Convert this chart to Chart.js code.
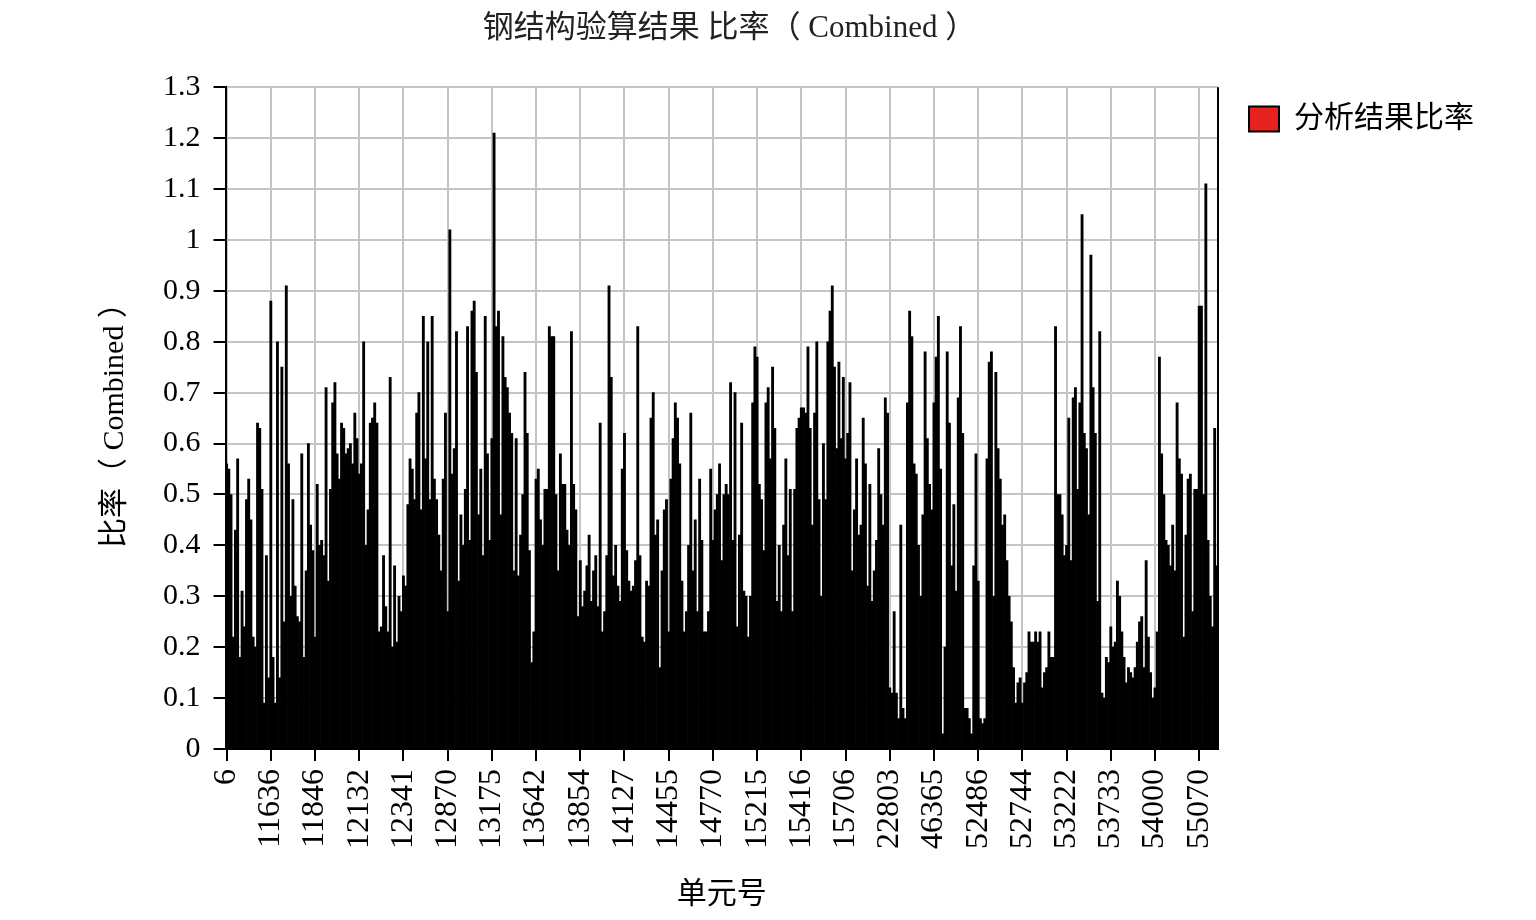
<!DOCTYPE html>
<html lang="zh">
<head>
<meta charset="utf-8">
<title>钢结构验算结果 比率（Combined）</title>
<script src="https://cdn.jsdelivr.net/npm/chart.js@4.4.1/dist/chart.umd.min.js"></script>
<style>
    html, body { margin: 0; padding: 0; background: #fff; }
    #grafico-ratio { display: block; }
</style>
</head>
<body>
<canvas id="grafico-ratio" width="1536" height="920"></canvas>
<script>
// element numbers shown under the axis, one every 20 bars
var tickLabels = ['6', '11636', '11846', '12132', '12341', '12870', '13175', '13642', '13854', '14127', '14455', '14770',
    '15215', '15416', '15706', '22803', '46365', '52486', '52744', '53222', '53733', '54000', '55070'];
var labelStep = 20;

var ratioValues = [
    0.56, 0.55, 0.50, 0.22, 0.43, 0.57, 0.18, 0.31, 0.24, 0.49, 0.53, 0.45, 0.22, 0.20, 0.64, 0.63, 0.51, 0.09, 0.38, 0.14,
    0.88, 0.18, 0.09, 0.80, 0.14, 0.75, 0.25, 0.91, 0.56, 0.30, 0.49, 0.32, 0.26, 0.25, 0.58, 0.18, 0.35, 0.60, 0.44, 0.39,
    0.22, 0.52, 0.40, 0.41, 0.38, 0.71, 0.33, 0.51, 0.68, 0.72, 0.58, 0.53, 0.64, 0.63, 0.58, 0.59, 0.60, 0.56, 0.66, 0.61,
    0.54, 0.56, 0.80, 0.40, 0.47, 0.64, 0.65, 0.68, 0.64, 0.23, 0.24, 0.38, 0.28, 0.23, 0.73, 0.20, 0.36, 0.21, 0.30, 0.27,
    0.34, 0.32, 0.48, 0.57, 0.55, 0.49, 0.66, 0.70, 0.47, 0.85, 0.57, 0.80, 0.49, 0.85, 0.53, 0.49, 0.42, 0.35, 0.53, 0.66,
    0.27, 1.02, 0.54, 0.59, 0.82, 0.33, 0.46, 0.40, 0.51, 0.83, 0.41, 0.86, 0.88, 0.74, 0.46, 0.55, 0.38, 0.85, 0.58, 0.41,
    0.61, 1.21, 0.83, 0.86, 0.46, 0.81, 0.73, 0.71, 0.66, 0.62, 0.35, 0.61, 0.34, 0.42, 0.50, 0.74, 0.62, 0.39, 0.17, 0.23,
    0.53, 0.55, 0.45, 0.40, 0.51, 0.51, 0.83, 0.81, 0.81, 0.50, 0.35, 0.58, 0.52, 0.52, 0.43, 0.40, 0.82, 0.52, 0.47, 0.26,
    0.37, 0.28, 0.31, 0.36, 0.42, 0.29, 0.35, 0.38, 0.28, 0.64, 0.23, 0.27, 0.38, 0.91, 0.73, 0.34, 0.40, 0.32, 0.29, 0.55,
    0.62, 0.39, 0.33, 0.31, 0.32, 0.37, 0.83, 0.38, 0.22, 0.21, 0.33, 0.32, 0.65, 0.70, 0.42, 0.45, 0.16, 0.35, 0.47, 0.49,
    0.23, 0.53, 0.61, 0.68, 0.65, 0.56, 0.33, 0.23, 0.27, 0.40, 0.66, 0.35, 0.45, 0.27, 0.53, 0.41, 0.23, 0.23, 0.27, 0.55,
    0.41, 0.47, 0.50, 0.56, 0.37, 0.50, 0.52, 0.50, 0.72, 0.41, 0.70, 0.24, 0.42, 0.64, 0.31, 0.30, 0.22, 0.30, 0.68, 0.79,
    0.77, 0.52, 0.49, 0.39, 0.68, 0.71, 0.57, 0.75, 0.63, 0.29, 0.40, 0.27, 0.44, 0.57, 0.38, 0.51, 0.27, 0.51, 0.63, 0.65,
    0.67, 0.67, 0.66, 0.79, 0.63, 0.44, 0.66, 0.80, 0.49, 0.30, 0.60, 0.49, 0.80, 0.86, 0.91, 0.75, 0.59, 0.76, 0.61, 0.73,
    0.57, 0.62, 0.72, 0.35, 0.47, 0.57, 0.42, 0.44, 0.65, 0.56, 0.32, 0.52, 0.29, 0.35, 0.41, 0.59, 0.50, 0.44, 0.69, 0.66,
    0.12, 0.11, 0.27, 0.11, 0.06, 0.44, 0.08, 0.06, 0.68, 0.86, 0.81, 0.56, 0.54, 0.40, 0.30, 0.46, 0.78, 0.61, 0.52, 0.47,
    0.68, 0.77, 0.85, 0.55, 0.03, 0.20, 0.78, 0.64, 0.36, 0.48, 0.31, 0.69, 0.83, 0.62, 0.08, 0.08, 0.06, 0.03, 0.36, 0.58,
    0.33, 0.06, 0.05, 0.06, 0.57, 0.76, 0.78, 0.30, 0.74, 0.59, 0.53, 0.44, 0.46, 0.37, 0.30, 0.25, 0.16, 0.09, 0.13, 0.14,
    0.09, 0.13, 0.15, 0.23, 0.21, 0.21, 0.23, 0.21, 0.23, 0.12, 0.15, 0.16, 0.23, 0.18, 0.18, 0.83, 0.50, 0.50, 0.46, 0.38,
    0.40, 0.65, 0.37, 0.69, 0.71, 0.51, 0.68, 1.05, 0.62, 0.59, 0.46, 0.97, 0.71, 0.62, 0.29, 0.82, 0.11, 0.10, 0.18, 0.17,
    0.24, 0.20, 0.21, 0.33, 0.30, 0.23, 0.18, 0.13, 0.16, 0.15, 0.14, 0.16, 0.21, 0.25, 0.26, 0.16, 0.37, 0.22, 0.15, 0.10,
    0.12, 0.23, 0.77, 0.58, 0.50, 0.41, 0.40, 0.36, 0.44, 0.35, 0.68, 0.57, 0.54, 0.22, 0.42, 0.53, 0.54, 0.27, 0.51, 0.51,
    0.87, 0.87, 0.50, 1.11, 0.41, 0.30, 0.24, 0.63, 0.36
];

var categories = ratioValues.map(function (v, i) {
    return i % labelStep === 0 ? tickLabels[i / labelStep] : '';
});

var fonteSerif = "'Liberation Serif', 'Noto Sans CJK SC', serif";

// black frame line on the right side of the plot
var bordaDireita = {
    id: 'bordaDireita',
    afterDatasetsDraw: function (chart) {
        var area = chart.chartArea;
        var c = chart.ctx;
        c.save();
        c.strokeStyle = '#000';
        c.lineWidth = 2;
        c.beginPath();
        c.moveTo(area.right, area.top);
        c.lineTo(area.right, area.bottom);
        c.stroke();
        c.restore();
    }
};

document.addEventListener('DOMContentLoaded', function () {
    Chart.defaults.font.family = fonteSerif;
    Chart.defaults.color = '#000';

    var ctx = document.getElementById('grafico-ratio').getContext('2d');
    var grafico = new Chart(ctx, {
        type: 'bar',
        data: {
            labels: categories,
            datasets: [{
                label: '分析结果比率',
                data: ratioValues,
                backgroundColor: '#000',
                borderWidth: 0,
                barPercentage: 1,
                categoryPercentage: 1
            }]
        },
        plugins: [bordaDireita],
        options: {
            responsive: false,
            animation: false,
            layout: {
                padding: { left: 90, right: 52, top: 0, bottom: 3 }
            },
            plugins: {
                title: {
                    display: true,
                    text: '\u2002钢结构验算结果 比率（ Combined ）',
                    fullSize: false,
                    color: '#222',
                    font: { size: 31, weight: 'normal' },
                    padding: { top: 10, bottom: 40 }
                },
                legend: {
                    position: 'right',
                    align: 'start',
                    fullSize: true,
                    // blank title only pushes the item down
                    title: {
                        display: true,
                        text: ' ',
                        font: { size: 10 },
                        padding: { top: 0, bottom: 61 }
                    },
                    labels: {
                        boxWidth: 30,
                        boxHeight: 25,
                        padding: 31,
                        font: { size: 30 },
                        generateLabels: function () {
                            return [{
                                text: '分析结果比率',
                                fillStyle: '#e8231f',
                                strokeStyle: '#000',
                                lineWidth: 2,
                                datasetIndex: 0,
                                hidden: false
                            }];
                        }
                    }
                },
                tooltip: {
                    callbacks: {
                        title: function (items) {
                            return 'No. ' + (items[0].dataIndex + 1);
                        }
                    }
                }
            },
            scales: {
                x: {
                    offset: true,
                    afterBuildTicks: function (axis) {
                        axis.ticks = axis.ticks.filter(function (t) {
                            return t.value % labelStep === 0;
                        });
                    },
                    ticks: {
                        autoSkip: false,
                        minRotation: 90,
                        maxRotation: 90,
                        padding: 8,
                        font: { size: 32 }
                    },
                    grid: {
                        offset: false,
                        color: '#c4c4c4',
                        lineWidth: 2,
                        tickLength: 12,
                        tickColor: '#000',
                        tickWidth: 2
                    },
                    border: { color: '#000', width: 2 },
                    title: {
                        display: true,
                        text: '单元号',
                        font: { size: 30 },
                        padding: { top: 20, bottom: 4 }
                    }
                },
                y: {
                    min: 0,
                    max: 1.3,
                    ticks: {
                        stepSize: 0.1,
                        padding: 13,
                        font: { size: 30 },
                        callback: function (value) {
                            return String(Math.round(value * 10) / 10);
                        }
                    },
                    grid: {
                        color: '#c4c4c4',
                        lineWidth: 2,
                        tickLength: 12,
                        tickColor: '#000',
                        tickWidth: 2
                    },
                    border: { color: '#000', width: 2 },
                    title: {
                        display: true,
                        text: '比率（ Combined ）',
                        font: { size: 30 },
                        padding: { top: 7, bottom: 17 }
                    }
                }
            }
        }
    });
});
</script>
</body>
</html>
